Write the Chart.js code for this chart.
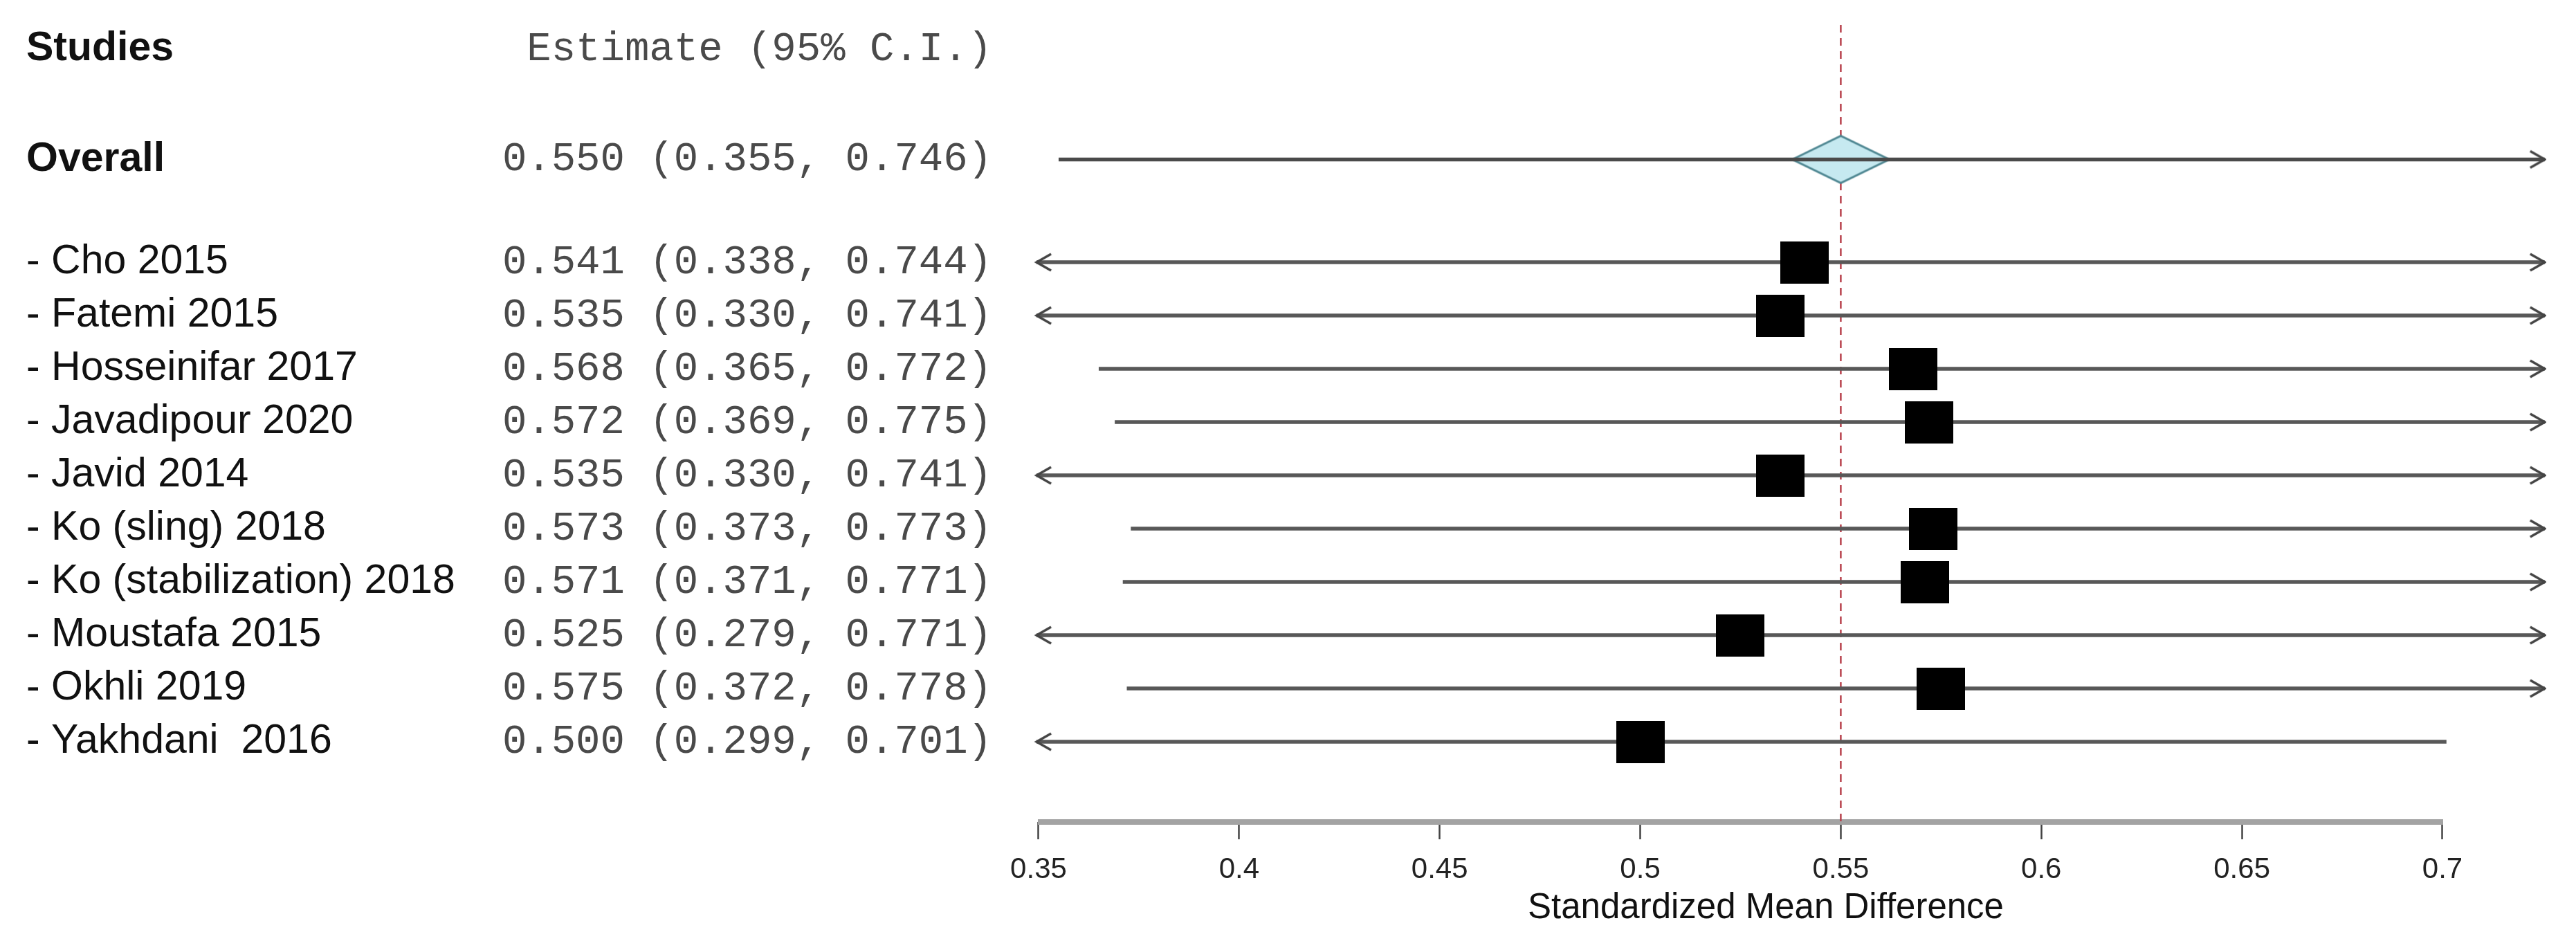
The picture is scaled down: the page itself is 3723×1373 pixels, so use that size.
<!DOCTYPE html>
<html>
<head>
<meta charset="utf-8">
<title>Leave-one-out forest plot</title>
<script src="https://cdn.jsdelivr.net/npm/chart.js@4.4.1/dist/chart.umd.min.js"></script>
<style>
  body { margin: 0; background: #fff; }
  #wrap { width: 3723px; height: 1373px; }
</style>
</head>
<body>
<div id="wrap"><canvas id="forestChart" width="3723" height="1373"></canvas></div>
<script>
// rows of the plot (leave-one-out estimates)
var studies = ["- Cho 2015", "- Fatemi 2015", "- Hosseinifar 2017", "- Javadipour 2020", "- Javid 2014",
               "- Ko (sling) 2018", "- Ko (stabilization) 2018", "- Moustafa 2015", "- Okhli 2019", "- Yakhdani  2016"];
var estimates = [0.541, 0.535, 0.568, 0.572, 0.535, 0.573, 0.571, 0.525, 0.575, 0.500];
var lowerCI = [0.338, 0.330, 0.365, 0.369, 0.330, 0.373, 0.371, 0.279, 0.372, 0.299];
var upperCI = [0.744, 0.741, 0.772, 0.775, 0.741, 0.773, 0.771, 0.771, 0.778, 0.701];

// overall row
var overallLabel = "Overall";
var overallEstimate = 0.550;
var overallLower = 0.355;
var overallUpper = 0.746;

// headers + x axis
var headerStudies = "Studies";
var headerEstimate = "Estimate (95% C.I.)";
var tickValues = [0.35, 0.4, 0.45, 0.5, 0.55, 0.6, 0.65, 0.7];
var tickLabels = ["0.35", "0.4", "0.45", "0.5", "0.55", "0.6", "0.65", "0.7"];
var axisTitle = "Standardized Mean Difference";

// lines are cut off with an arrow outside this window
var arrowLeft = 0.3495;
var arrowRight = 0.7255;
var yTop = -2.4545;
var yBottom = 12.506;
var headerRow = -2;
var overallRow = 0.07;
var firstStudyRow = 2;
var lineGray = "#585858";

function makeMark(w, h, draw) {
    var c = document.createElement("canvas");
    c.width = w;
    c.height = h;
    draw(c.getContext("2d"), w, h);
    return c;
}

var boxMark = makeMark(70, 61, function(g, w, h){
    g.fillStyle = "#000";
    g.fillRect(0, 0, w, h);
});
var diamondMark = makeMark(144, 72, function(g, w, h){
    g.beginPath();
    g.moveTo(2, h / 2);
    g.lineTo(w / 2, 2);
    g.lineTo(w - 2, h / 2);
    g.lineTo(w / 2, h - 2);
    g.closePath();
    g.fillStyle = "#c6e9f0";
    g.fill();
    g.strokeStyle = "#4f8792";
    g.lineWidth = 3;
    g.stroke();
});
var leftArrow = makeMark(48, 30, function(g, w, h){
    g.strokeStyle = "#444";
    g.lineWidth = 3.5;
    g.beginPath();
    g.moveTo(w / 2 + 21, h / 2 - 12);
    g.lineTo(w / 2, h / 2);
    g.lineTo(w / 2 + 21, h / 2 + 12);
    g.stroke();
});
var rightArrow = makeMark(48, 30, function(g, w, h){
    g.strokeStyle = "#444";
    g.lineWidth = 3.5;
    g.beginPath();
    g.moveTo(w / 2 - 21, h / 2 - 12);
    g.lineTo(w / 2, h / 2);
    g.lineTo(w / 2 - 21, h / 2 + 12);
    g.stroke();
});

function ciLine(lo, hi, row, color, order) {
    return {
        data: [{x: Math.max(lo, arrowLeft), y: row}, {x: Math.min(hi, arrowRight), y: row}],
        showLine: true,
        borderColor: color,
        borderWidth: 5.5,
        pointStyle: [leftArrow, rightArrow],
        pointRadius: [lo < arrowLeft ? 1 : 0, hi > arrowRight ? 1 : 0],
        order: order
    };
}

var datasets = [];
// dashed line at the pooled estimate
datasets.push({
    data: [{x: overallEstimate, y: yTop}, {x: overallEstimate, y: yBottom}],
    showLine: true,
    borderColor: "#b8404c",
    borderWidth: 2.5,
    borderDash: [11, 8],
    pointRadius: 0,
    order: 6
});
for (var i = 0; i < studies.length; i++) {
    datasets.push(ciLine(lowerCI[i], upperCI[i], i + firstStudyRow, lineGray, 5));
}
datasets.push({
    data: [{x: overallEstimate, y: overallRow}],
    pointStyle: diamondMark,
    pointRadius: 1,
    order: 4
});
datasets.push(ciLine(overallLower, overallUpper, overallRow, "#4a4a4a", 3));
datasets.push({
    data: estimates.map(function(e, i){ return {x: e, y: i + firstStudyRow}; }),
    pointStyle: boxMark,
    pointRadius: 1,
    order: 1
});

function fmt(e, lo, hi) {
    return e.toFixed(3) + " (" + lo.toFixed(3) + ", " + hi.toFixed(3) + ")";
}

var labelFont = "59px 'Liberation Sans', Arial, sans-serif";
var boldFont = "bold 59px 'Liberation Sans', Arial, sans-serif";
var monoFont = "59px 'Liberation Mono', 'Courier New', monospace";
var monoColor = "#4a4a4a";

//study names, estimate column and the axis base line
var tablePlugin = {
    id: "studyTable",
    beforeDatasetsDraw: function(chart) {
        var ctx = chart.ctx;
        var xs = chart.scales.x;
        ctx.save();
        ctx.strokeStyle = "#a3a3a3";
        ctx.lineWidth = 8;
        ctx.beginPath();
        ctx.moveTo(xs.getPixelForValue(tickValues[0]) - 1, chart.chartArea.bottom);
        ctx.lineTo(xs.getPixelForValue(tickValues[tickValues.length - 1]) + 1, chart.chartArea.bottom);
        ctx.stroke();
        ctx.restore();
    },
    afterDraw: function(chart) {
        var ctx = chart.ctx;
        var ys = chart.scales.y;
        ctx.save();
        ctx.textBaseline = "middle";
        function put(txt, x, row, font, color, align) {
            ctx.font = font;
            ctx.fillStyle = color;
            ctx.textAlign = align;
            ctx.fillText(txt, x, ys.getPixelForValue(row));
        }
        put(headerStudies, 38, headerRow, boldFont, "#111", "left");
        put(headerEstimate, 1434, headerRow, monoFont, monoColor, "right");
        put(overallLabel, 38, overallRow, boldFont, "#111", "left");
        put(fmt(overallEstimate, overallLower, overallUpper), 1434, overallRow, monoFont, monoColor, "right");
        for (var i = 0; i < studies.length; i++) {
            put(studies[i], 38, i + firstStudyRow, labelFont, "#111", "left");
            put(fmt(estimates[i], lowerCI[i], upperCI[i]), 1434, i + firstStudyRow, monoFont, monoColor, "right");
        }
        ctx.restore();
    }
};

var forestChart = new Chart(document.getElementById("forestChart"), {
    type: "scatter",
    data: { datasets: datasets },
    plugins: [tablePlugin],
    options: {
        responsive: false,
        devicePixelRatio: 1,
        animation: false,
        events: [],
        layout: { padding: { left: 1424, right: 43, top: 36, bottom: 35 } },
        plugins: { legend: { display: false }, tooltip: { enabled: false } },
        scales: {
            x: {
                type: "linear",
                min: 0.33672,
                max: 0.72588,
                afterBuildTicks: function(axis){
                    axis.ticks = tickValues.map(function(v){ return {value: v}; });
                },
                ticks: {
                    callback: function(v, i){ return tickLabels[i]; },
                    padding: 23,
                    autoSkip: false,
                    maxRotation: 0,
                    color: "#222",
                    font: { family: "'Liberation Sans', Arial, sans-serif", size: 42, lineHeight: 1 }
                },
                grid: { drawOnChartArea: false, drawTicks: true, tickLength: 25, tickColor: "#444", tickWidth: 2.5 },
                border: { display: false },
                title: {
                    display: true,
                    text: axisTitle,
                    color: "#111",
                    padding: { top: -14, bottom: 0 },
                    font: { family: "'Liberation Sans', Arial, sans-serif", size: 51, lineHeight: 1 }
                }
            },
            y: { type: "linear", reverse: true, min: yTop, max: yBottom, display: false }
        }
    }
});
</script>
</body>
</html>
